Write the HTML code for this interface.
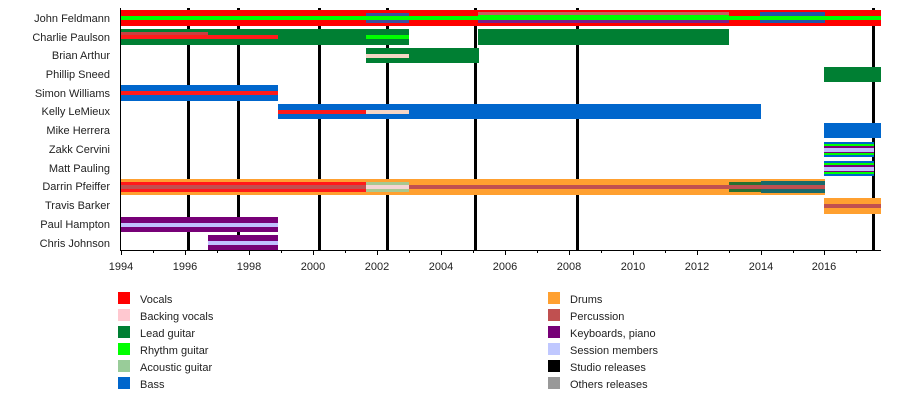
<!DOCTYPE html>
<html><head><meta charset="utf-8"><style>
body{margin:0;background:#fff}
svg text{font-family:"Liberation Sans",sans-serif;font-size:11px;fill:#222}
</style></head><body>
<svg width="900" height="400" xmlns="http://www.w3.org/2000/svg">
<!-- release lines -->
<g fill="#000">
<rect x="187" y="8" width="3" height="242"/>
<rect x="237" y="8" width="3" height="242"/>
<rect x="318" y="8" width="3" height="242"/>
<rect x="386" y="8" width="3" height="242"/>
<rect x="474" y="8" width="3" height="242"/>
<rect x="576" y="8" width="3" height="242"/>
<rect x="872" y="8" width="3" height="242"/>
</g>
<!-- John -->
<rect x="121" y="10" width="760" height="16" fill="#ff0000"/>
<rect x="121" y="16" width="760" height="4" fill="#00ff00"/>
<rect x="366" y="13" width="43" height="10" fill="#3b4fa0"/>
<rect x="366" y="16" width="43" height="4" fill="#00ff00"/>
<rect x="478" y="12" width="251" height="3" fill="#c86060"/>
<rect x="478" y="15" width="251" height="5" fill="#00ff00"/>
<rect x="478" y="20" width="251" height="3" fill="#7a1f8a"/>
<rect x="760" y="12" width="65" height="11" fill="#1f55a8"/>
<rect x="760" y="16" width="65" height="4" fill="#00ff00"/>
<!-- Charlie -->
<rect x="121" y="29" width="288" height="16" fill="#007f33"/>
<rect x="121" y="35" width="157" height="4" fill="#ff1a1a"/>
<rect x="121" y="32" width="87" height="3" fill="#c84040"/>
<rect x="366" y="35" width="43" height="4" fill="#00ff00"/>
<rect x="478" y="29" width="251" height="16" fill="#007f33"/>
<!-- Brian -->
<rect x="366" y="48" width="113" height="15" fill="#007f33"/>
<rect x="366" y="54" width="43" height="4" fill="#f5d5c5"/>
<!-- Phillip -->
<rect x="824" y="67" width="57" height="15" fill="#007f33"/>
<!-- Simon -->
<rect x="121" y="85" width="157" height="16" fill="#0066cc"/>
<rect x="121" y="91" width="157" height="4" fill="#ff1a1a"/>
<!-- Kelly -->
<rect x="278" y="104" width="483" height="15" fill="#0066cc"/>
<rect x="278" y="110" width="88" height="4" fill="#ff1a1a"/>
<rect x="366" y="110" width="43" height="4" fill="#f5d5c5"/>
<!-- Mike -->
<rect x="824" y="123" width="57" height="15" fill="#0066cc"/>
<!-- Zakk / Matt -->
<g>
<rect x="824" y="142" width="50" height="15" fill="#0066cc"/>
<rect x="824" y="144" width="50" height="2" fill="#00ff00"/>
<rect x="824" y="146" width="50" height="2" fill="#7a007a"/>
<rect x="824" y="148" width="50" height="4" fill="#c0c0ff"/>
<rect x="824" y="152" width="50" height="1" fill="#7a007a"/>
<rect x="824" y="153" width="50" height="2" fill="#00ff00"/>
<rect x="824" y="161" width="50" height="15" fill="#0066cc"/>
<rect x="824" y="163" width="50" height="2" fill="#00ff00"/>
<rect x="824" y="165" width="50" height="2" fill="#7a007a"/>
<rect x="824" y="167" width="50" height="4" fill="#c0c0ff"/>
<rect x="824" y="171" width="50" height="1" fill="#7a007a"/>
<rect x="824" y="172" width="50" height="2" fill="#00ff00"/>
</g>
<!-- Darrin -->
<rect x="121" y="179" width="704" height="16" fill="#ffa030"/>
<rect x="121" y="182" width="245" height="10" fill="#ff1a1a"/>
<rect x="366" y="182" width="43" height="10" fill="#a8c890"/>
<rect x="366" y="185" width="43" height="4" fill="#f5d5d5"/>
<rect x="729" y="182" width="32" height="10" fill="#2a7030"/>
<rect x="761" y="181" width="64" height="12" fill="#1a6a6a"/>
<rect x="121" y="185" width="245" height="4" fill="#c05050"/>
<rect x="409" y="185" width="416" height="4" fill="#c05050"/>
<!-- Travis -->
<rect x="824" y="198" width="57" height="16" fill="#ffa030"/>
<rect x="824" y="204" width="57" height="4" fill="#c05050"/>
<!-- Paul -->
<rect x="121" y="217" width="157" height="15" fill="#770077"/>
<rect x="121" y="223" width="157" height="4" fill="#c0c0ff"/>
<!-- Chris -->
<rect x="208" y="235" width="70" height="15" fill="#770077"/>
<rect x="208" y="241" width="70" height="4" fill="#c0c0ff"/>
<!-- axes -->
<rect x="120" y="8" width="1" height="243" fill="#000"/>
<rect x="120" y="250" width="761" height="1" fill="#000"/>
<g stroke="#000" stroke-width="1">
<path d="M121.5 250v5M153.5 250v3M185.5 250v5M217.5 250v3M249.5 250v5M281.5 250v3M313.5 250v5M345.5 250v3M377.5 250v5M409.5 250v3M441.5 250v5M473.5 250v3M505.5 250v5M537.5 250v3M569.5 250v5M601.5 250v3M633.5 250v5M665.5 250v3M697.5 250v5M729.5 250v3M761.5 250v5M793.5 250v3M824.5 250v5M856.5 250v3"/>
</g>
<g text-anchor="middle">
<text x="121" y="270">1994</text><text x="185" y="270">1996</text><text x="249" y="270">1998</text><text x="313" y="270">2000</text><text x="377" y="270">2002</text><text x="441" y="270">2004</text><text x="505" y="270">2006</text><text x="569" y="270">2008</text><text x="633" y="270">2010</text><text x="697" y="270">2012</text><text x="761" y="270">2014</text><text x="824" y="270">2016</text>
</g>
<g text-anchor="end">
<text x="110" y="22">John Feldmann</text>
<text x="110" y="41">Charlie Paulson</text>
<text x="110" y="59">Brian Arthur</text>
<text x="110" y="78">Phillip Sneed</text>
<text x="110" y="97">Simon Williams</text>
<text x="110" y="115">Kelly LeMieux</text>
<text x="110" y="134">Mike Herrera</text>
<text x="110" y="153">Zakk Cervini</text>
<text x="110" y="172">Matt Pauling</text>
<text x="110" y="190">Darrin Pfeiffer</text>
<text x="110" y="209">Travis Barker</text>
<text x="110" y="228">Paul Hampton</text>
<text x="110" y="247">Chris Johnson</text>
</g>
<!-- legend -->
<rect x="118" y="292" width="12" height="12" fill="#ff0000"/><text x="140" y="303">Vocals</text>
<rect x="118" y="309" width="12" height="12" fill="#ffc8d0"/><text x="140" y="320">Backing vocals</text>
<rect x="118" y="326" width="12" height="12" fill="#007f33"/><text x="140" y="337">Lead guitar</text>
<rect x="118" y="343" width="12" height="12" fill="#00ff00"/><text x="140" y="354">Rhythm guitar</text>
<rect x="118" y="360" width="12" height="12" fill="#99cc99"/><text x="140" y="371">Acoustic guitar</text>
<rect x="118" y="377" width="12" height="12" fill="#0066cc"/><text x="140" y="388">Bass</text>
<rect x="548" y="292" width="12" height="12" fill="#ffa030"/><text x="570" y="303">Drums</text>
<rect x="548" y="309" width="12" height="12" fill="#c05050"/><text x="570" y="320">Percussion</text>
<rect x="548" y="326" width="12" height="12" fill="#770077"/><text x="570" y="337">Keyboards, piano</text>
<rect x="548" y="343" width="12" height="12" fill="#c0c8ff"/><text x="570" y="354">Session members</text>
<rect x="548" y="360" width="12" height="12" fill="#000000"/><text x="570" y="371">Studio releases</text>
<rect x="548" y="377" width="12" height="12" fill="#999999"/><text x="570" y="388">Others releases</text>
</svg>
</body></html>
